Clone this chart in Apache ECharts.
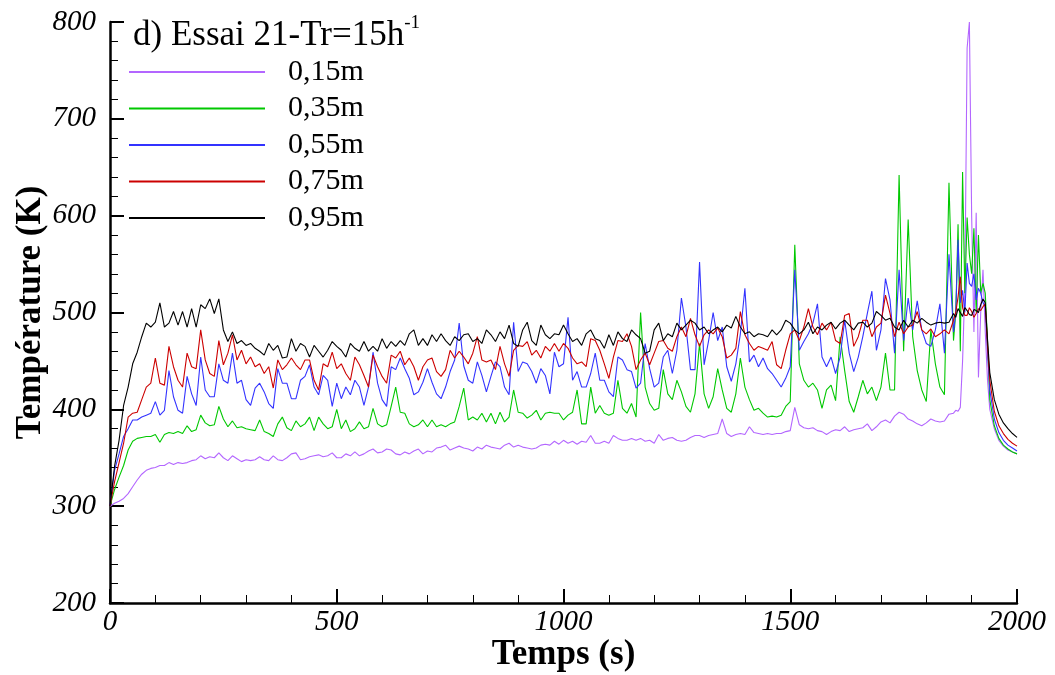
<!DOCTYPE html>
<html><head><meta charset="utf-8">
<script src="https://cdn.jsdelivr.net/npm/echarts@6/dist/echarts.min.js"></script>
<style>html,body{margin:0;padding:0;background:#fff}#c{width:1055px;height:675px}</style>
</head><body><div id="c"></div>
<script>
// sample times (s): every 10 s, every 5 s between 1860 and 1940
const times = [];
for (let t = 0; t <= 1850; t += 10) times.push(t);
for (let t = 1860; t <= 1940; t += 5) times.push(t);
for (let t = 1950; t <= 2000; t += 10) times.push(t);

const names = ['0,15m', '0,35m', '0,55m', '0,75m', '0,95m'];
const colors = ['#b366ff', '#00c800', '#3333ff', '#cc0000', '#000000'];

const xTicks = [0, 500, 1000, 1500, 2000];
const yTicks = [200, 300, 400, 500, 600, 700, 800];

const T015 = [
300,303,305,308,313,320,327,333,337,339,
340,342,342,345,343,345,344,345,347,348,
352,349,351,350,355,350,347,352,349,346,
348,347,348,351,348,347,352,348,347,350,
354,355,348,349,351,352,353,351,352,355,
350,350,354,352,356,352,354,357,359,355,
356,359,358,354,353,356,354,357,359,354,
357,356,360,361,363,358,360,362,360,359,
357,361,359,363,361,360,359,363,365,361,
363,361,360,359,360,363,364,363,367,364,
368,365,367,364,367,366,373,365,365,367,
365,373,370,368,368,370,368,370,367,368,
365,374,368,370,371,368,367,368,371,373,
373,371,373,374,375,390,375,372,374,375,
374,382,376,375,374,375,374,375,375,377,
378,402,384,381,380,381,378,377,374,377,
379,378,382,377,379,380,381,385,378,382,
387,389,386,393,397,395,390,388,385,383,
386,390,388,387,388,395,
396,399,398,402,450,526,773,800,600,480,603,433,500,544,480,430,400,
380,368,362,358,356,354];

const T035 = [
300,317,330,342,358,367,370,371,372,372,
374,366,374,376,375,377,375,383,377,379,
394,386,383,384,403,390,382,388,381,382,
380,379,378,389,377,375,372,385,392,381,
378,388,382,385,392,378,392,385,380,382,
400,380,389,377,380,387,380,382,401,385,
382,384,403,423,397,396,385,382,384,389,
382,389,382,384,382,385,387,403,422,389,
392,389,396,387,396,385,397,387,392,420,
397,396,391,394,399,389,396,397,396,396,
389,394,397,420,385,385,423,396,404,396,
394,396,430,401,396,406,392,500,423,406,
399,401,441,416,410,430,418,403,397,416,
468,416,401,413,442,420,401,397,416,453,
423,410,399,401,396,392,393,392,394,403,
408,570,447,430,423,427,420,401,420,425,
409,475,440,408,397,413,430,416,423,409,
423,458,420,420,642,460,596,475,440,420,
408,482,447,423,415,634,
471,500,591,460,645,520,598,560,540,587,500,580,520,530,520,470,410,
383,370,363,359,356,354];

const T055 = [
300,337,354,372,380,389,389,392,394,396,
408,394,399,440,413,399,396,434,416,404,
454,420,413,413,447,430,427,458,427,430,
410,404,422,427,418,406,401,442,427,427,
411,411,430,434,446,423,415,435,430,403,
427,411,423,415,430,423,404,423,459,427,
410,403,444,441,453,442,432,415,418,428,
442,428,416,411,423,439,451,489,445,430,
427,449,435,418,434,449,444,423,415,490,
439,449,447,439,427,442,435,416,459,444,
447,495,430,439,423,423,437,458,430,430,
418,413,454,451,441,439,422,427,468,442,
423,427,454,461,437,461,515,485,441,441,
552,446,471,500,471,485,444,429,447,478,
525,449,456,444,453,442,437,430,423,432,
444,544,461,470,478,489,509,454,444,454,
437,454,492,458,439,454,475,499,522,461,
482,535,513,458,544,471,515,482,512,482,
468,465,482,509,458,560,
480,500,575,510,523,500,551,530,527,540,513,525,520,510,506,460,420,
390,376,368,363,360,357];

const T075 = [
300,325,345,365,392,396,397,410,423,427,
453,427,425,465,444,430,423,458,444,442,
482,451,437,434,471,446,458,477,451,461,
447,454,444,447,437,444,422,451,441,446,
453,446,441,451,451,430,420,447,444,459,
442,447,437,430,454,446,435,423,456,444,
434,427,456,453,460,446,453,444,430,444,
451,453,439,434,441,461,453,460,454,447,
458,475,451,449,451,441,465,447,434,461,
466,465,470,456,461,453,465,460,468,460,
468,463,453,447,449,444,473,471,461,447,
432,454,471,470,478,465,441,451,458,446,
458,470,471,463,460,475,485,475,494,477,
465,477,482,478,484,475,453,456,463,501,
477,468,461,465,463,461,470,446,442,461,
478,482,471,485,504,485,477,489,482,490,
471,468,497,499,465,475,492,492,475,485,
489,518,499,475,490,478,485,487,501,482,
478,483,475,478,482,478,
492,500,516,537,505,497,497,505,501,495,499,504,502,506,509,465,430,
398,383,375,369,365,362];

const T095 = [
300,341,368,404,423,447,459,475,489,485,
490,510,485,489,501,487,501,485,504,485,
508,504,514,499,514,482,470,480,468,471,
466,468,463,460,456,468,461,466,453,454,
473,460,468,465,454,466,460,454,461,470,
465,461,454,468,463,460,470,460,465,460,
473,463,470,465,471,466,478,482,466,473,
466,477,470,478,471,466,475,471,477,478,
470,473,468,482,477,470,480,473,487,468,
465,482,490,471,466,487,477,473,478,477,
487,478,470,473,466,478,482,473,471,463,
477,466,480,473,470,482,477,473,458,460,
482,489,471,478,475,489,482,487,492,489,
482,485,478,482,485,480,487,484,496,485,
478,480,475,478,477,475,482,477,482,492,
489,482,478,482,490,478,485,482,487,490,
483,489,492,487,482,489,490,485,489,501,
497,492,494,485,482,492,485,492,489,494,
490,487,489,490,489,490,
499,495,504,500,496,505,502,498,497,503,502,500,508,514,510,472,438,
410,395,386,380,375,371];

const seriesVals = [T015, T035, T055, T075, T095];
const FONT = 'Liberation Serif';

const chart = echarts.init(document.getElementById('c'), null, {renderer: 'canvas'});
const series = seriesVals.map((vals, i) => {
  const n = Math.min(vals.length, times.length);
  if (vals.length !== times.length) console.error('length mismatch', names[i], vals.length, times.length);
  const data = [];
  for (let k = 0; k < n; k++) data.push([times[k], vals[k]]);
  return {
    name: names[i], type: 'line', data, showSymbol: false, symbol: 'none',
    lineStyle: {width: 1.1, color: colors[i]}, itemStyle: {color: colors[i]},
    emphasis: {disabled: true}, z: 2 + i
  };
});

const axisCommon = {
  axisLine: {onZero: false, lineStyle: {color: '#000', width: 2.5}},
  axisTick: {inside: true, length: 14, lineStyle: {color: '#000', width: 2}},
  minorTick: {show: true, splitNumber: 5, length: 8, lineStyle: {color: '#000', width: 1}},
  splitLine: {show: false},
  nameLocation: 'middle',
  nameMoveOverlap: false,
  nameTextStyle: {fontFamily: FONT, fontWeight: 'bold', fontSize: 35, color: '#000'}
};

chart.setOption({
  animation: false,
  backgroundColor: '#fff',
  grid: {left: 110, right: 38, top: 22, bottom: 72, containLabel: false, outerBoundsMode: 'none'},
  title: {
    text: '{a|d) Essai 21-Tr=15h}{s|-1}',
    left: 128, top: 9,
    textStyle: {rich: {
      a: {fontFamily: FONT, fontSize: 35, fontWeight: 'normal', color: '#000', lineHeight: 44},
      s: {fontFamily: FONT, fontSize: 19, fontWeight: 'normal', color: '#000', verticalAlign: 'top', lineHeight: 19}
    }}
  },
  legend: {
    orient: 'vertical', left: 124, top: 52, itemWidth: 136, itemHeight: 2, itemGap: 6.5,
    icon: 'rect', selectedMode: false, data: names,
    textStyle: {fontFamily: FONT, fontSize: 30, color: '#000', lineHeight: 30, padding: [0, 0, 0, 18]}
  },
  xAxis: Object.assign({}, axisCommon, {
    type: 'value', min: xTicks[0], max: xTicks[xTicks.length - 1], interval: 500,
    axisLabel: {fontFamily: FONT, fontStyle: 'italic', fontSize: 29, color: '#000', margin: 5,
      formatter: v => String(v)},
    name: 'Temps (s)', nameGap: 34
  }),
  yAxis: Object.assign({}, axisCommon, {
    type: 'value', min: yTicks[0], max: yTicks[yTicks.length - 1], interval: 100,
    axisLabel: {fontFamily: FONT, fontStyle: 'italic', fontSize: 29, color: '#000', margin: 14,
      formatter: v => String(v)},
    name: 'Température (K)', nameGap: 62
  }),
  series
});
</script></body></html>
